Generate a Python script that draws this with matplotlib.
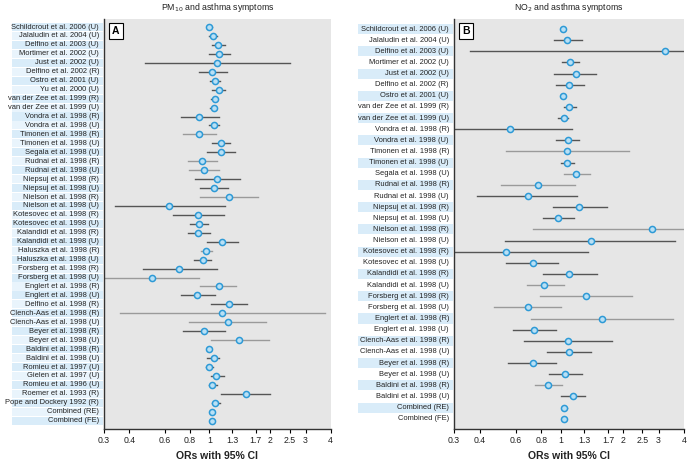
import numpy as np
import matplotlib.pyplot as plt
from matplotlib import transforms

plt.rcParams['font.family'] = ['Liberation Sans', 'DejaVu Sans']

# ---- panel A: PM10 ----
studies_a = [
    "Schildcrout et al. 2006 (U)", "Jalaludin et al. 2004 (U)", "Delfino et al. 2003 (U)",
    "Mortimer et al. 2002 (U)", "Just et al. 2002 (U)", "Delfino et al. 2002 (R)",
    "Ostro et al. 2001 (U)", "Yu et al. 2000 (U)", "van der Zee et al. 1999 (R)",
    "van der Zee et al. 1999 (U)", "Vondra et al. 1998 (R)", "Vondra et al. 1998 (U)",
    "Timonen et al. 1998 (R)", "Timonen et al. 1998 (U)", "Segala et al. 1998 (U)",
    "Rudnai et al. 1998 (R)", "Rudnai et al. 1998 (U)", "Niepsuj et al. 1998 (R)",
    "Niepsuj et al. 1998 (U)", "Nielson et al. 1998 (R)", "Nielson et al. 1998 (U)",
    "Kotesovec et al. 1998 (R)", "Kotesovec et al. 1998 (U)", "Kalandidi et al. 1998 (R)",
    "Kalandidi et al. 1998 (U)", "Haluszka et al. 1998 (R)", "Haluszka et al. 1998 (U)",
    "Forsberg et al. 1998 (R)", "Forsberg et al. 1998 (U)", "Englert et al. 1998 (R)",
    "Englert et al. 1998 (U)", "Delfino et al. 1998 (R)", "Clench-Aas et al. 1998 (R)",
    "Clench-Aas et al. 1998 (U)", "Beyer et al. 1998 (R)", "Beyer et al. 1998 (U)",
    "Baldini et al. 1998 (R)", "Baldini et al. 1998 (U)", "Romieu et al. 1997 (U)",
    "Gielen et al. 1997 (U)", "Romieu et al. 1996 (U)", "Roemer et al. 1993 (R)",
    "Pope and Dockery 1992 (R)", "Combined (RE)", "Combined (FE)",
]
or_a = [1.00, 1.04, 1.10, 1.12, 1.09, 1.03, 1.07, 1.12, 1.06, 1.05, 0.89, 1.05,
        0.89, 1.14, 1.14, 0.92, 0.94, 1.09, 1.05, 1.25, 0.63, 0.88, 0.89, 0.88,
        1.16, 0.96, 0.93, 0.71, 0.52, 1.11, 0.87, 1.25, 1.16, 1.23, 0.94, 1.41,
        0.99, 1.05, 1.00, 1.08, 1.03, 1.52, 1.07, 1.03, 1.03]
lo_a = [0.98, 0.99, 1.03, 1.00, 0.48, 0.89, 1.01, 1.03, 1.02, 1.01, 0.72, 0.99,
        0.74, 1.03, 0.97, 0.78, 0.79, 0.85, 0.90, 0.90, 0.34, 0.66, 0.80, 0.78,
        0.97, 0.91, 0.84, 0.47, 0.29, 0.90, 0.72, 1.02, 0.36, 0.79, 0.74, 1.02,
        0.97, 0.97, 0.96, 1.02, 0.99, 1.14, 1.03, 1.01, 1.02]
hi_a = [1.03, 1.09, 1.20, 1.26, 2.50, 1.22, 1.13, 1.20, 1.09, 1.08, 1.11, 1.12,
        1.08, 1.27, 1.34, 1.09, 1.12, 1.42, 1.23, 1.75, 1.20, 1.18, 0.98, 1.01,
        1.39, 1.03, 1.02, 1.09, 0.89, 1.36, 1.06, 1.54, 3.75, 1.91, 1.20, 1.97,
        1.01, 1.12, 1.04, 1.18, 1.09, 2.00, 1.13, 1.05, 1.04]

# ---- panel B: NO2 ----
studies_b = [
    "Schildcrout et al. 2006 (U)", "Jalaludin et al. 2004 (U)", "Delfino et al. 2003 (U)",
    "Mortimer et al. 2002 (U)", "Just et al. 2002 (U)", "Delfino et al. 2002 (R)",
    "Ostro et al. 2001 (U)", "van der Zee et al. 1999 (R)", "van der Zee et al. 1999 (U)",
    "Vondra et al. 1998 (R)", "Vondra et al. 1998 (U)", "Timonen et al. 1998 (R)",
    "Timonen et al. 1998 (U)", "Segala et al. 1998 (U)", "Rudnai et al. 1998 (R)",
    "Rudnai et al. 1998 (U)", "Niepsuj et al. 1998 (R)", "Niepsuj et al. 1998 (U)",
    "Nielson et al. 1998 (R)", "Nielson et al. 1998 (U)", "Kotesovec et al. 1998 (R)",
    "Kotesovec et al. 1998 (U)", "Kalandidi et al. 1998 (R)", "Kalandidi et al. 1998 (U)",
    "Forsberg et al. 1998 (R)", "Forsberg et al. 1998 (U)", "Englert et al. 1998 (R)",
    "Englert et al. 1998 (U)", "Clench-Aas et al. 1998 (R)", "Clench-Aas et al. 1998 (U)",
    "Beyer et al. 1998 (R)", "Beyer et al. 1998 (U)", "Baldini et al. 1998 (R)",
    "Baldini et al. 1998 (U)", "Combined (RE)", "Combined (FE)",
]
or_b = [1.02, 1.07, 3.21, 1.11, 1.18, 1.10, 1.02, 1.10, 1.03, 0.56, 1.08, 1.07,
        1.07, 1.19, 0.77, 0.69, 1.23, 0.97, 2.77, 1.40, 0.54, 0.73, 1.10, 0.83,
        1.32, 0.69, 1.58, 0.74, 1.08, 1.09, 0.73, 1.05, 0.86, 1.14, 1.04, 1.03]
lo_b = [1.00, 0.92, 0.36, 1.01, 0.92, 0.94, 1.00, 1.03, 0.97, 0.29, 0.95, 0.54,
        1.00, 1.04, 0.51, 0.39, 0.91, 0.82, 0.73, 0.53, 0.29, 0.54, 0.82, 0.68,
        0.79, 0.47, 0.71, 0.58, 0.66, 0.85, 0.55, 0.87, 0.75, 1.00, 1.01, 1.01]
hi_b = [1.04, 1.27, 4.50, 1.23, 1.48, 1.30, 1.04, 1.18, 1.08, 1.13, 1.22, 2.14,
        1.16, 1.38, 1.17, 1.20, 1.67, 1.16, 4.50, 3.60, 1.35, 0.97, 1.50, 1.03,
        2.22, 1.00, 3.53, 0.95, 1.77, 1.40, 0.95, 1.27, 1.01, 1.31, 1.07, 1.05]

ticks = [0.3, 0.4, 0.6, 0.8, 1, 1.3, 1.7, 2, 2.5, 3, 4]
tick_labels = ["0.3", "0.4", "0.6", "0.8", "1", "1.3", "1.7", "2", "2.5", "3", "4"]

# rows whose CI line is drawn in the lighter grey
light_a = {12, 15, 16, 19, 25, 28, 29, 32, 33, 35}
light_b = {11, 13, 14, 18, 23, 24, 25, 26, 32}

fig = plt.figure(figsize=(6.89, 4.63), dpi=100)


def panel(rect, names, ors, los, his, light, letter, title, band_x0, shade_all):
    ax = fig.add_axes(rect)
    n = len(names)
    y = np.arange(n)
    ax.set_facecolor('#e6e6e6')
    for i in range(n):
        c = '#9a9a9a' if i in light else '#555555'
        ax.plot([los[i], his[i]], [y[i], y[i]], color=c, lw=1.0, zorder=2)
    ax.plot(ors, y, 'o', ms=4.4, mfc='#b9e0f5', mec='#2e9ad6', mew=1.1,
            ls='none', zorder=3)
    ax.set_xscale('log')
    ax.set_xlim(0.3, 4)
    ax.set_ylim(n - 1 + 0.9, -0.9)
    ax.set_xticks(ticks)
    ax.set_xticklabels(tick_labels, fontsize=6.3, color='#222222')
    ax.minorticks_off()
    ax.set_yticks([])
    ax.tick_params(axis='x', length=3, width=0.8, pad=2.5)
    for s in ['top', 'right']:
        ax.spines[s].set_visible(False)
    for s in ['left', 'bottom']:
        ax.spines[s].set_color('#333333')
        ax.spines[s].set_linewidth(1.0)

    # label column with blue bands
    trans = transforms.blended_transform_factory(ax.transAxes, ax.transData)
    for i in range(n):
        if i % 2 == 0:
            fc = '#d9ecf9'
        elif shade_all:
            fc = '#e9f4fc'
        else:
            fc = None
        if fc:
            ax.add_patch(plt.Rectangle((band_x0, i - 0.45), -band_x0 - 0.005, 0.9,
                                       transform=trans, clip_on=False,
                                       fc=fc, ec='none', zorder=0))
        ax.text(-0.022, i, names[i], transform=trans, ha='right', va='center',
                fontsize=5.4, color='#222222')

    ax.text(0.035, 0.982, letter, transform=ax.transAxes, ha='left', va='top',
            fontsize=7.5, fontweight='bold',
            bbox=dict(boxstyle='square,pad=0.3', fc='white', ec='black', lw=0.8))
    ax.set_xlabel('ORs with 95% CI', fontsize=7.5, fontweight='bold',
                  color='#222222', labelpad=4)
    ax.text(0.5, 1.029, title, transform=ax.transAxes, ha='center', va='center',
            fontsize=6.3, color='#222222')
    return ax


panel([0.151, 0.074, 0.329, 0.885], studies_a, or_a, lo_a, hi_a, light_a, 'A',
      r'PM$_{10}$ and asthma symptoms', -0.405, True)
panel([0.659, 0.074, 0.334, 0.885], studies_b, or_b, lo_b, hi_b, light_b, 'B',
      r'NO$_2$ and asthma symptoms', -0.417, False)

fig.savefig('out.png', dpi=100)
